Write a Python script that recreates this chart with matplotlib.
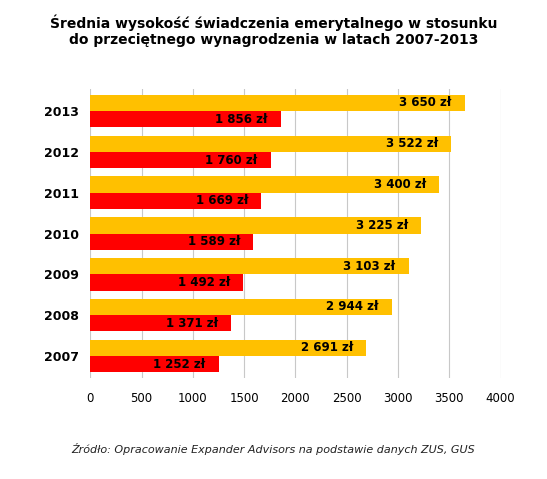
import matplotlib
matplotlib.use("Agg")
import matplotlib.pyplot as plt
import numpy as np

years = ["2007", "2008", "2009", "2010", "2011", "2012", "2013"]
pension = [1252, 1371, 1492, 1589, 1669, 1760, 1856]
salary = [2691, 2944, 3103, 3225, 3400, 3522, 3650]


def fmt(v):
    return f"{v:,}".replace(",", " ") + " zł"


fig = plt.figure(figsize=(5.47, 4.79), dpi=100)
ax = fig.add_axes([0.165, 0.21, 0.75, 0.605])

y = np.arange(len(years))
h = 0.4
ax.barh(y + h / 2, salary, height=h, color="#FFC000", zorder=2)
ax.barh(y - h / 2, pension, height=h, color="#FF0000", zorder=2)

for yi, s, p in zip(y, salary, pension):
    ax.text(s - 130, yi + h / 2, fmt(s), ha="right", va="center",
            fontsize=8.5, fontweight="bold", zorder=3)
    ax.text(p - 130, yi - h / 2, fmt(p), ha="right", va="center",
            fontsize=8.5, fontweight="bold", zorder=3)

ax.set_xlim(0, 4000)
ax.set_ylim(-0.55, len(years) - 0.45)
ax.set_xticks(range(0, 4001, 500))
ax.set_yticks(y)
ax.set_yticklabels(years, fontweight="bold", fontsize=9)
ax.tick_params(axis="x", labelsize=8.5, length=0, pad=10)
ax.tick_params(axis="y", length=0, pad=8)
ax.grid(axis="x", color="#C8C8C8", linewidth=0.8, zorder=0)
for sp in ax.spines.values():
    sp.set_visible(False)

fig.text(0.5, 0.935, "Średnia wysokość świadczenia emerytalnego w stosunku\n"
         "do przeciętnego wynagrodzenia w latach 2007-2013",
         ha="center", va="center", fontsize=10, fontweight="bold")
fig.text(0.5, 0.062, "Źródło: Opracowanie Expander Advisors na podstawie danych ZUS, GUS",
         ha="center", va="center", fontsize=8, style="italic", color="#222222")

fig.savefig("out.png", dpi=100)
